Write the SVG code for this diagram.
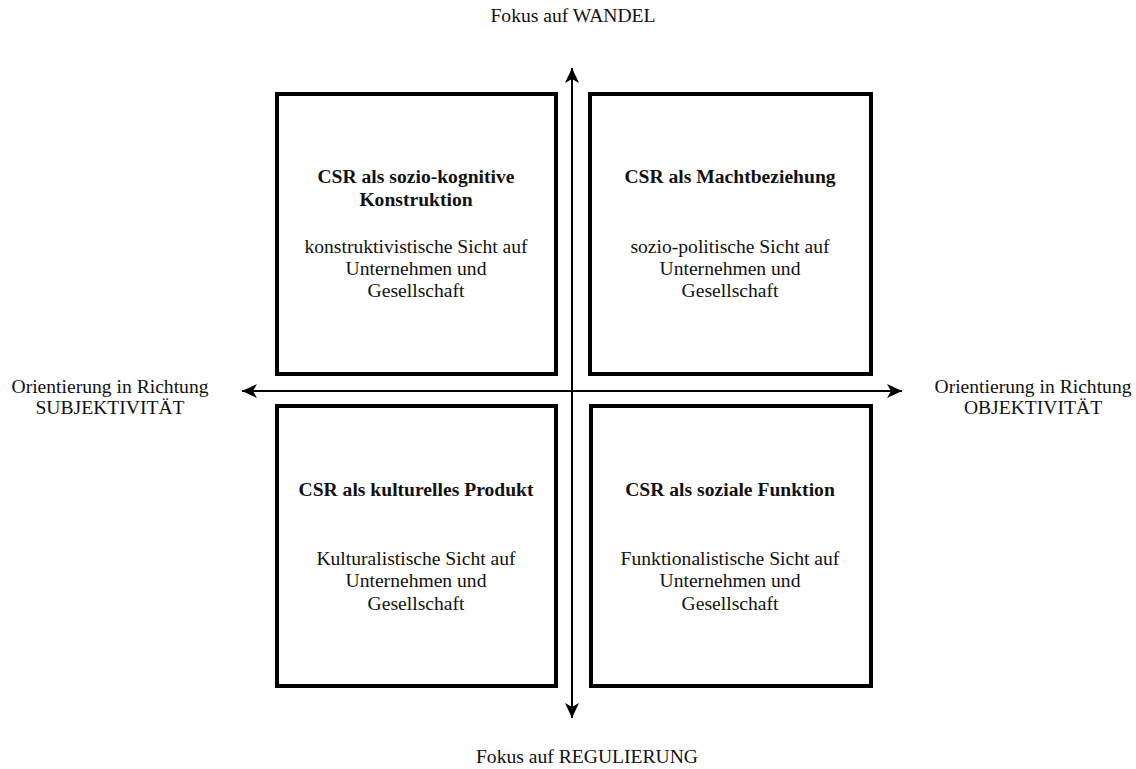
<svg xmlns="http://www.w3.org/2000/svg" width="1136" height="769" viewBox="0 0 1136 769">
<defs>
<marker id="ah" markerUnits="userSpaceOnUse" markerWidth="16" markerHeight="14" refX="15" refY="7" orient="auto">
<path d="M0,0 L15,7 L0,14 L4,7 Z" fill="#000"/>
</marker>
<style>
.box{fill:#fff;stroke:#000;stroke-width:4}
.ax{stroke:#000;stroke-width:2;fill:none}
text{font-family:'Liberation Serif','DejaVu Serif',serif;font-size:19.6px;fill:#111;text-anchor:middle}
.t{font-weight:bold}
</style>
</defs>
<rect width="1136" height="769" fill="#fff"/>
<g id="connectors">
<line class="ax" x1="572" y1="718" x2="572" y2="68" marker-end="url(#ah)"/>
<line class="ax" x1="572" y1="68" x2="572" y2="718" marker-end="url(#ah)"/>
<line class="ax" x1="902" y1="391" x2="242" y2="391" marker-end="url(#ah)"/>
<line class="ax" x1="242" y1="391" x2="902" y2="391" marker-end="url(#ah)"/>
</g>
<g font-family="Liberation Serif, DejaVu Serif, serif">
<g id="box-tl">
<rect class="box" x="277" y="94" width="279" height="280"/>
<text class="t" x="416" y="183">CSR als sozio-kognitive</text>
<text class="t" x="416" y="206">Konstruktion</text>
<text x="416" y="253">konstruktivistische Sicht auf</text>
<text x="416" y="275">Unternehmen und</text>
<text x="416" y="297">Gesellschaft</text>
</g>
<g id="box-tr">
<rect class="box" x="590" y="94" width="281" height="280"/>
<text class="t" x="730" y="183">CSR als Machtbeziehung</text>
<text x="730" y="253">sozio-politische Sicht auf</text>
<text x="730" y="275">Unternehmen und</text>
<text x="730" y="297">Gesellschaft</text>
</g>
<g id="box-bl">
<rect class="box" x="277" y="406" width="279" height="280"/>
<text class="t" x="416" y="496">CSR als kulturelles Produkt</text>
<text x="416" y="565">Kulturalistische Sicht auf</text>
<text x="416" y="587">Unternehmen und</text>
<text x="416" y="610">Gesellschaft</text>
</g>
<g id="box-br">
<rect class="box" x="591" y="406" width="280" height="280"/>
<text class="t" x="730" y="496">CSR als soziale Funktion</text>
<text x="730" y="565">Funktionalistische Sicht auf</text>
<text x="730" y="587">Unternehmen und</text>
<text x="730" y="610">Gesellschaft</text>
</g>
<g id="label-top"><text x="573" y="22">Fokus auf WANDEL</text></g>
<g id="label-bottom"><text x="587" y="763">Fokus auf REGULIERUNG</text></g>
<g id="label-left">
<text x="110" y="393">Orientierung in Richtung</text>
<text x="110" y="414">SUBJEKTIVITÄT</text>
</g>
<g id="label-right">
<text x="1033" y="393">Orientierung in Richtung</text>
<text x="1033" y="414">OBJEKTIVITÄT</text>
</g>
</g>
</svg>
